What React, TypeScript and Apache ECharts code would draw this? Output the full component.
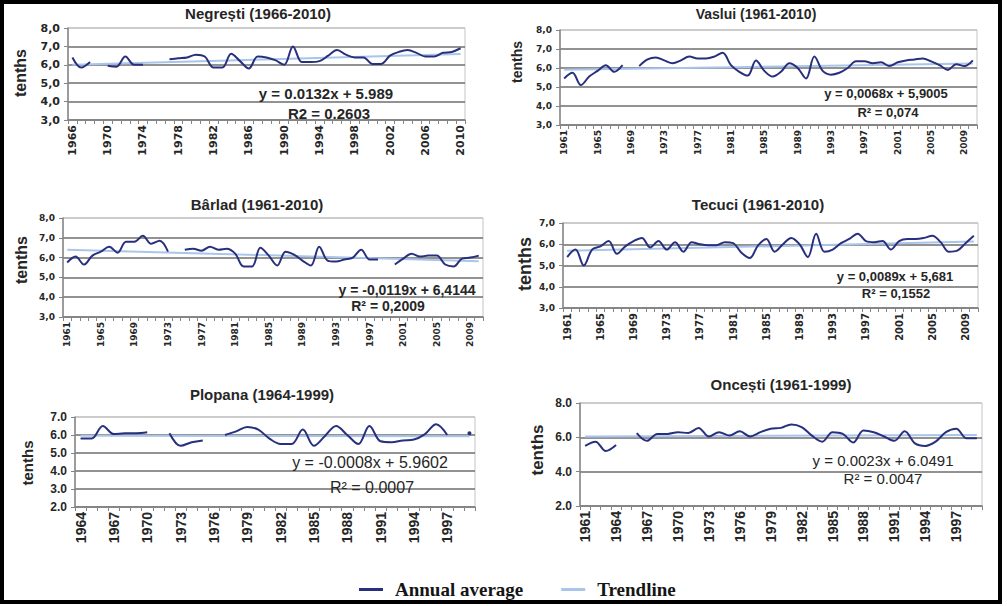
import React, { useEffect, useRef } from "react";
import * as echarts from "echarts";

const YEARS = [
  "1961", "1962", "1963", "1964", "1965", "1966", "1967", "1968", "1969", "1970",
  "1971", "1972", "1973", "1974", "1975", "1976", "1977", "1978", "1979", "1980",
  "1981", "1982", "1983", "1984", "1985", "1986", "1987", "1988", "1989", "1990",
  "1991", "1992", "1993", "1994", "1995", "1996", "1997", "1998", "1999", "2000",
  "2001", "2002", "2003", "2004", "2005", "2006", "2007", "2008", "2009", "2010",
];

const negrestiYears = YEARS.slice(5);
const vasluiYears = YEARS;
const barladYears = YEARS;
const tecuciYears = YEARS;
const plopanaYears = YEARS.slice(3, 39);
const oncestiYears = YEARS.slice(0, 39);

const negrestiValues = [
  6.4, 5.85, 6.15, null, 5.95, 5.9, 6.45, 6.0, 6.0, null,
  null, 6.3, 6.35, 6.4, 6.55, 6.45, 5.85, 5.85, 6.6, 6.2,
  5.8, 6.45, 6.4, 6.25, 6.0, 7.0, 6.15, 6.15, 6.2, 6.5,
  6.8, 6.55, 6.4, 6.4, 6.05, 6.05, 6.5, 6.7, 6.8, 6.65,
  6.45, 6.45, 6.65, 6.7, 6.9,
];
const vasluiValues = [
  5.45, 5.75, 5.1, 5.55, 5.85, 6.15, 5.8, 6.15, null, 6.1,
  6.45, 6.55, 6.4, 6.25, 6.4, 6.6, 6.5, 6.5, 6.6, 6.8,
  6.15, 5.8, 5.6, 6.4, 5.85, 5.55, 5.8, 6.25, 6.0, 5.45,
  6.6, 5.85, 5.65, 5.75, 6.0, 6.35, 6.35, 6.25, 6.3, 6.1,
  6.3, 6.4, 6.45, 6.5, 6.35, 6.15, 5.9, 6.2, 6.1, 6.4,
];
const barladValues = [
  5.75, 6.05, 5.65, 6.1, 6.3, 6.55, 6.25, 6.8, 6.8, 7.1,
  6.7, 6.85, 6.3, null, 6.4, 6.45, 6.35, 6.55, 6.4, 6.45,
  6.2, 5.55, 5.55, 6.5, 6.1, 5.6, 6.3, 6.15, 5.85, 5.6,
  6.55, 5.85, 5.8, 5.9, 6.0, 6.4, 5.9, 5.9, null, 5.65,
  5.95, 6.2, 6.05, 6.1, 6.1, 5.65, 5.55, 5.95, 6.0, 6.1,
];
const tecuciValues = [
  5.4, 5.75, 5.0, 5.75, 5.9, 6.15, 5.55, 5.9, 6.15, 6.3,
  5.85, 6.15, 5.75, 6.1, 5.65, 6.1, 6.0, 5.95, 5.95, 6.1,
  6.05, 5.6, 5.35, 5.95, 6.25, 5.65, 6.0, 6.3, 6.0, 5.4,
  6.5, 5.65, 5.75, 6.05, 6.25, 6.5, 6.15, 6.1, 6.15, 5.75,
  6.15, 6.25, 6.25, 6.3, 6.4, 6.1, 5.65, 5.7, 6.05, 6.4,
];
const plopanaValues = [
  5.8, 5.8, 6.5, 6.05, 6.1, 6.1, 6.15, null, 6.1, 5.4,
  5.6, 5.7, null, 6.0, 6.2, 6.45, 6.3, 5.8, 5.5, 5.5,
  6.3, 5.4, 5.95, 6.5, 6.0, 5.5, 6.5, 5.65, 5.6, 5.7,
  5.75, 6.05, 6.6, 6.0, null, 6.1,
];
const oncestiValues = [
  5.5, 5.75, 5.2, 5.55, null, 6.25, 5.8, 6.2, 6.2, 6.3,
  6.25, 6.55, 6.05, 6.3, 6.1, 6.35, 6.05, 6.3, 6.5, 6.55,
  6.75, 6.6, 6.1, 5.75, 6.3, 6.2, 5.7, 6.4, 6.3, 6.05,
  5.8, 6.35, 5.65, 5.5, 5.75, 6.3, 6.5, 5.95, 5.95,
];

// Trendline equations as printed on the chart: [slope, intercept]
const negrestiTrend = [0.0132, 5.989];
const vasluiTrend = [0.0068, 5.9005];
const barladTrend = [-0.0119, 6.4144];
const tecuciTrend = [0.0089, 5.681];
const plopanaTrend = [-0.0008, 5.9602];
const oncestiTrend = [0.0023, 6.0491];

const titles = [
  "Negrești (1966-2010)",
  "Vaslui (1961-2010)",
  "Bârlad (1961-2010)",
  "Tecuci (1961-2010)",
  "Plopana (1964-1999)",
  "Oncești (1961-1999)",
];
const equations = [
  "y = 0.0132x + 5.989",
  "y = 0,0068x + 5,9005",
  "y = -0,0119x + 6,4144",
  "y = 0,0089x + 5,681",
  "y = -0.0008x + 5.9602",
  "y = 0.0023x + 6.0491",
];
const r2Labels = [
  "R2 = 0.2603",
  "R² = 0,074",
  "R² = 0,2009",
  "R² = 0,1552",
  "R² = 0.0007",
  "R² = 0.0047",
];
const yRanges = [
  [3, 8, 1],
  [3, 8, 1],
  [3, 8, 1],
  [3, 7, 1],
  [2, 7, 1],
  [2, 8, 2],
];
const decimalComma = [true, true, true, true, false, false];
const legendNames = ["Annual average", "Trendline"];

const SANS = "Liberation Sans, Arial, sans-serif";
const WIDE = "DejaVu Sans, Verdana, sans-serif";

// layout / style (positions in px)
const layout = [
  { grid: [68, 28, 397, 92], title: [258, 6, 15], tenths: [20, 73, 16], eq: [326, 93], r2: [329, 113], eqFont: "bold 15px " + SANS, xFont: 11, yFont: 11, interval: 3, labelFamily: WIDE },
  { grid: [560, 30, 417, 95], title: [756, 7, 14], tenths: [517, 62, 14], eq: [886, 93], r2: [888, 112], eqFont: "bold 13px " + SANS, xFont: 9, yFont: 9, interval: 3, labelFamily: WIDE },
  { grid: [63, 218, 420, 99], title: [257, 197, 15], tenths: [21, 260, 16], eq: [407, 290], r2: [388, 306], eqFont: "bold 14px " + SANS, xFont: 9, yFont: 9, interval: 3, labelFamily: WIDE },
  { grid: [563, 223, 415, 85], title: [758, 197, 15], tenths: [525, 264, 18], eq: [895, 276], r2: [896, 293], eqFont: "bold 13px " + SANS, xFont: 10, yFont: 9, interval: 3, labelFamily: WIDE },
  { grid: [75, 417, 400, 90], title: [262, 387, 15], tenths: [27, 463, 15], eq: [370, 462], r2: [372, 487], eqFont: "16px " + SANS, xFont: 14, yFont: 12, interval: 2, labelFamily: SANS },
  { grid: [580, 403, 402, 103], title: [781, 377, 15], tenths: [537, 450, 17], eq: [883, 460], r2: [883, 478], eqFont: "15px " + SANS, xFont: 14, yFont: 12, interval: 2, labelFamily: SANS },
];

const panelCats = [negrestiYears, vasluiYears, barladYears, tecuciYears, plopanaYears, oncestiYears];
const panelValues = [negrestiValues, vasluiValues, barladValues, tecuciValues, plopanaValues, oncestiValues];
const panelTrends = [negrestiTrend, vasluiTrend, barladTrend, tecuciTrend, plopanaTrend, oncestiTrend];

const NAVY = "#28307e";
const TREND = "#a9c5ea";

function buildOption() {
  const grid: any[] = [];
  const xAxis: any[] = [];
  const yAxis: any[] = [];
  const series: any[] = [];
  const title: any[] = [];
  const graphic: any[] = [];

  layout.forEach((L, i) => {
    const cats = panelCats[i];
    const [min, max, step] = yRanges[i];
    const nLines = Math.round((max - min) / step) + 1;
    const splitColors = Array.from({ length: nLines }, (_, k) => (k === nLines - 1 ? "#c4c4c4" : "#6e6e6e"));
    grid.push({
      left: L.grid[0], top: L.grid[1], width: L.grid[2], height: L.grid[3],
      show: true, borderColor: "#c4c4c4", borderWidth: 1, backgroundColor: "#ffffff",
    });
    title.push({
      text: titles[i], left: L.title[0], top: L.title[1], textAlign: "center", padding: 0,
      textStyle: { fontFamily: SANS, fontWeight: "bold", fontSize: L.title[2], color: "#262626" },
    });
    xAxis.push({
      type: "category", gridIndex: i, data: cats, boundaryGap: true,
      axisLine: { show: true, lineStyle: { color: "#858585", width: 1.5 } },
      axisTick: { show: true, interval: 0, length: 4, lineStyle: { color: "#858585" } },
      axisLabel: {
        interval: L.interval, rotate: 90, margin: 5, fontFamily: L.labelFamily, fontWeight: "bold",
        fontSize: L.xFont, color: "#262626",
      },
      splitLine: { show: false },
    });
    yAxis.push({
      type: "value", gridIndex: i, min, max, interval: step,
      axisLine: { show: true, lineStyle: { color: "#858585", width: 1.5 } },
      axisTick: { show: true, length: 4, lineStyle: { color: "#858585" } },
      axisLabel: {
        margin: 8, fontFamily: L.labelFamily, fontWeight: "bold", fontSize: L.yFont, color: "#262626",
        formatter: (v: number) => {
          const s = v.toFixed(1);
          return decimalComma[i] ? s.replace(".", ",") : s;
        },
      },
      splitLine: { show: true, lineStyle: { color: splitColors, width: 1.5 } },
    });
    const [slope, intercept] = panelTrends[i];
    const n = cats.length;
    series.push({
      type: "line", name: legendNames[1], xAxisIndex: i, yAxisIndex: i,
      data: [[cats[0], slope * 1 + intercept], [cats[n - 1], slope * n + intercept]],
      symbol: "none", silent: true, z: 2,
      itemStyle: { color: TREND }, lineStyle: { color: TREND, width: 2 },
    });
    const vals = panelValues[i];
    const data = vals.map((v, k) => {
      const isolated = v !== null && (k === 0 || vals[k - 1] === null) && (k === vals.length - 1 || vals[k + 1] === null);
      return isolated ? { value: v, symbol: "circle", symbolSize: 4 } : v;
    });
    series.push({
      type: "line", name: legendNames[0], xAxisIndex: i, yAxisIndex: i, data,
      smooth: 0.35, symbol: "none", showSymbol: true, connectNulls: false, silent: true, z: 3,
      itemStyle: { color: NAVY }, lineStyle: { color: NAVY, width: 2 },
    });
    graphic.push({
      type: "text", x: L.tenths[0], y: L.tenths[1], rotation: Math.PI / 2,
      style: {
        text: "tenths", font: `bold ${L.tenths[2]}px ${SANS}`, fill: "#262626",
        textAlign: "center", textVerticalAlign: "middle", align: "center", verticalAlign: "middle",
      },
    });
    graphic.push({
      type: "text", x: L.eq[0], y: L.eq[1], z: 50,
      style: {
        text: equations[i], font: L.eqFont, fill: "#262626",
        textAlign: "center", textVerticalAlign: "middle", align: "center", verticalAlign: "middle",
      },
    });
    graphic.push({
      type: "text", x: L.r2[0], y: L.r2[1], z: 50,
      style: {
        text: r2Labels[i], font: L.eqFont, fill: "#262626",
        textAlign: "center", textVerticalAlign: "middle", align: "center", verticalAlign: "middle",
      },
    });
  });

  graphic.push({
    type: "rect", z: 100, silent: true,
    shape: { x: 2, y: 2, width: 998, height: 600 },
    style: { fill: "none", stroke: "#000", lineWidth: 4 },
  });

  return {
    animation: false,
    backgroundColor: "#ffffff",
    title,
    grid,
    xAxis,
    yAxis,
    series,
    graphic,
    legend: {
      data: [
        { name: legendNames[0], icon: "rect", itemStyle: { color: NAVY } },
        { name: legendNames[1], icon: "rect", itemStyle: { color: TREND } },
      ],
      left: 359, top: 580, padding: 0, itemWidth: 24, itemHeight: 3, itemGap: 38,
      textStyle: {
        fontFamily: "Liberation Serif, Times New Roman, serif", fontWeight: "bold", fontSize: 19,
        color: "#151515", padding: [0, 0, 0, 7],
      },
    },
  };
}

export default function App() {
  const ref = useRef<HTMLDivElement>(null);
  useEffect(() => {
    if (!ref.current) return;
    const chart = echarts.init(ref.current, undefined, { renderer: "svg" });
    chart.setOption(buildOption() as any);
    return () => chart.dispose();
  }, []);
  return (
    <div
      ref={ref}
      style={{ position: "fixed", left: 0, top: 0, width: 1007, height: 606, background: "#fff" }}
    />
  );
}
